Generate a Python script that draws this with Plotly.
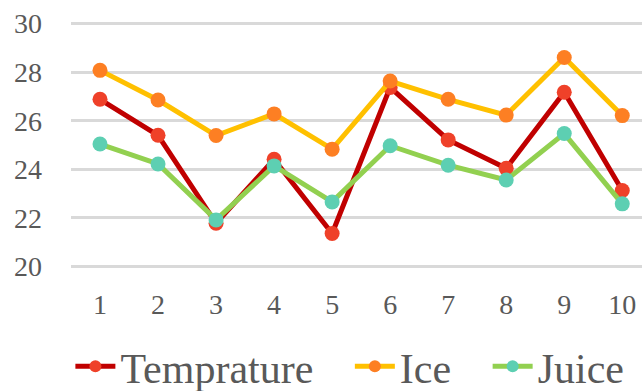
import plotly.graph_objects as go

categories = [1, 2, 3, 4, 5, 6, 7, 8, 9, 10]
temperature = [26.88, 25.40, 21.78, 24.41, 21.36, 27.37, 25.21, 24.04, 27.17, 23.13]
ice = [28.07, 26.85, 25.39, 26.28, 24.83, 27.63, 26.88, 26.23, 28.60, 26.21]
juice = [25.04, 24.22, 21.92, 24.14, 22.66, 24.97, 24.17, 23.56, 25.47, 22.58]
y_ticks = [20, 22, 24, 26, 28, 30]

series = [
    ("Temprature", temperature, "#c00000", "#ef4129", "\u00a0\u00a0\u00a0"),
    ("Ice", ice, "#ffc000", "#fd7f23", "\u00a0\u00a0\u00a0"),
    ("Juice", juice, "#92d050", "#5dcfb2", ""),
]

fig = go.Figure()
for name, vals, lc, mc, pad in series:
    fig.add_trace(go.Scatter(
        x=categories, y=vals, name=name + pad, mode="lines+markers",
        line=dict(color=lc, width=5),
        marker=dict(color=mc, size=15, line=dict(width=0)),
    ))

font_family = "Liberation Serif, Times New Roman, serif"
fig.update_layout(
    width=642, height=391,
    margin=dict(l=71, r=0, t=21, b=122, autoexpand=False),
    paper_bgcolor="white", plot_bgcolor="white",
    font=dict(family=font_family, color="#595959"),
    showlegend=True,
    legend=dict(
        orientation="h", xref="container", yref="container",
        x=0.545, xanchor="center", y=0.063, yanchor="middle",
        font=dict(size=42, family=font_family, color="#595959"),
        itemwidth=40, tracegroupgap=0, itemsizing="constant",
        bgcolor="rgba(0,0,0,0)",
    ),
    xaxis=dict(
        range=[0.5, 10.34], tickmode="array", tickvals=categories,
        ticktext=[str(c) for c in categories],
        showgrid=False, zeroline=False, showline=False, automargin=False,
        tickfont=dict(size=28, family=font_family, color="#595959"),
        ticks="", ticklabelstandoff=16,
    ),
    yaxis=dict(
        range=[19.9, 30.1], tickmode="array", tickvals=y_ticks,
        showgrid=True, gridcolor="#d9d9d9", gridwidth=3,
        zeroline=False, showline=False, automargin=False,
        tickfont=dict(size=28, family=font_family, color="#595959"),
        ticks="", ticklabelstandoff=28,
    ),
)

fig.write_html(
    "out.html",
    config={"displayModeBar": False},
    post_script="document.body.style.margin='0';document.body.style.overflow='hidden';",
)
